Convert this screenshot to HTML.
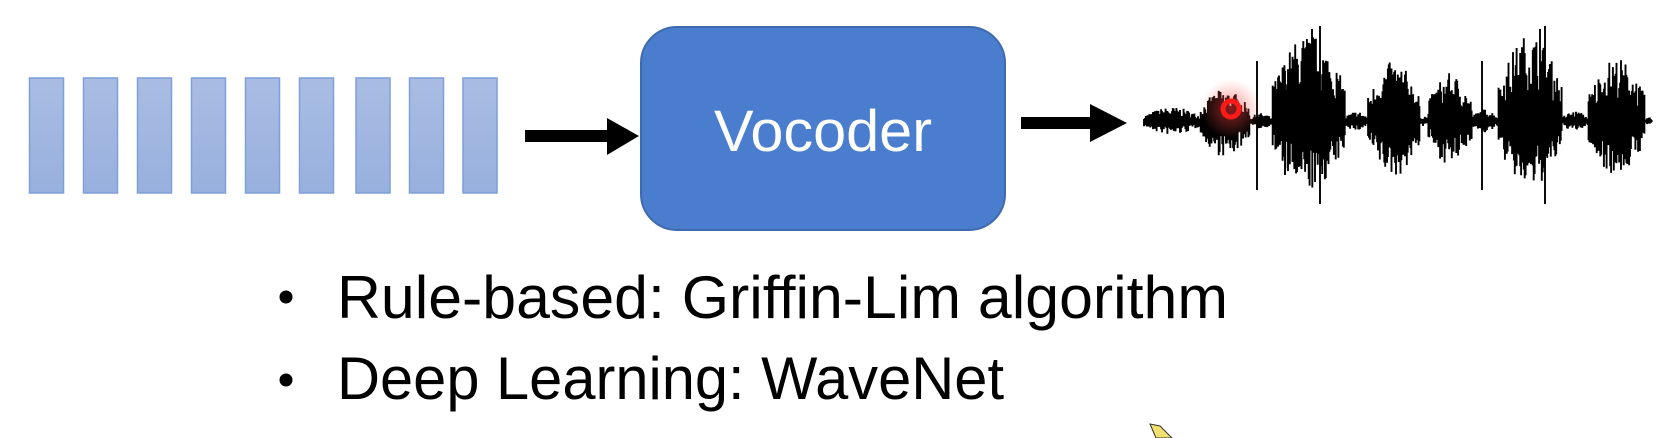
<!DOCTYPE html>
<html><head><meta charset="utf-8"><style>
html,body{margin:0;padding:0;background:#fff;width:1664px;height:438px;overflow:hidden}
svg{display:block}
</style></head><body>
<svg id="s" width="1664" height="438" viewBox="0 0 1664 438" xmlns="http://www.w3.org/2000/svg">
<defs>
<linearGradient id="bg" x1="0" y1="0" x2="0" y2="1"><stop offset="0" stop-color="#a9bde3"/><stop offset="1" stop-color="#98b0de"/></linearGradient>
<radialGradient id="glow"><stop offset="0" stop-color="#ff3030" stop-opacity="0.55"/><stop offset="1" stop-color="#ff6060" stop-opacity="0"/></radialGradient>
</defs>
<g fill="url(#bg)" stroke="#7f9fd8" stroke-width="1.5">
<rect x="29.5" y="78" width="34" height="115"/>
<rect x="83.5" y="78" width="34" height="115"/>
<rect x="137.5" y="78" width="34" height="115"/>
<rect x="191.5" y="78" width="34" height="115"/>
<rect x="245.5" y="78" width="34" height="115"/>
<rect x="299.5" y="78" width="34" height="115"/>
<rect x="356" y="78" width="34" height="115"/>
<rect x="409.5" y="78" width="34" height="115"/>
<rect x="463" y="78" width="34" height="115"/>
</g>
<polygon points="525,130 607,130 607,118 639,136 607,155 607,142 525,142" fill="#000"/>
<rect x="641" y="27" width="364" height="203" rx="36" ry="36" fill="#4a7dcd" stroke="#3f6aaf" stroke-width="2"/>
<text x="823" y="151" font-family="Liberation Sans, sans-serif" font-size="58" fill="#fff" text-anchor="middle" textLength="218" lengthAdjust="spacingAndGlyphs">Vocoder</text>
<polygon points="1021,117 1090,117 1090,104 1127,123 1090,142 1090,129 1021,129" fill="#000"/>
<path id="wave" fill="none" stroke="#000" stroke-width="1.9"/>
<line x1="1144" y1="121" x2="1652" y2="121" stroke="#000" stroke-width="3"/>
<circle cx="1231" cy="109" r="30" fill="url(#glow)"/>
<circle cx="1231" cy="109" r="8" fill="none" stroke="#ff1a1a" stroke-width="5"/>
<circle cx="286" cy="297" r="6.5" fill="#000"/>
<circle cx="286" cy="380" r="6.5" fill="#000"/>
<text x="337" y="318" font-family="Liberation Sans, sans-serif" font-size="60" fill="#000" textLength="891" lengthAdjust="spacingAndGlyphs">Rule-based: Griffin-Lim algorithm</text>
<text x="337" y="399" font-family="Liberation Sans, sans-serif" font-size="60" fill="#000" textLength="667" lengthAdjust="spacingAndGlyphs">Deep Learning: WaveNet</text>
<polygon points="1150,424 1160,426 1172,438 1156,438" fill="#f0e070" stroke="#333" stroke-width="1"/>
</svg>
<script>
(function(){
var seed=7;function r(){seed=(seed*16807)%2147483647;return seed/2147483647;}
var segs=[[1144,1200,14,14],[1200,1250,32,36],[1250,1272,8,8],[1272,1345,88,70],[1345,1368,10,10],[1368,1420,60,56],[1420,1428,6,6],[1428,1472,48,44],[1472,1498,12,12],[1498,1562,88,68],[1562,1588,10,10],[1588,1645,64,54],[1645,1652,4,4]];
function env(x){for(var i=0;i<segs.length;i++){var s=segs[i];if(x>=s[0]&&x<s[1]){var t=(x-s[0])/(s[1]-s[0]);var w=Math.sin(Math.PI*t);w=0.4+0.6*w;return [s[2]*w,s[3]*w];}}return [3,3];}
var d="";var b=121;
for(var x=1144;x<1652;x+=0.9){var e=env(x);var up=e[0]*(0.35+0.65*Math.pow(r(),1.3));var dn=e[1]*(0.35+0.65*Math.pow(r(),1.3));d+="M"+x.toFixed(1)+" "+(b-up).toFixed(1)+"V"+(b+dn).toFixed(1);}
var spikes=[[1257,60,190],[1320,95,204],[1312,92,150],[1482,60,190],[1545,95,204],[1540,92,160],[1285,50,175]];
spikes.forEach(function(s){d+="M"+s[0]+" "+(b-s[1])+"V"+s[2];});
document.getElementById("wave").setAttribute("d",d);
})();
</script>
</body></html>
